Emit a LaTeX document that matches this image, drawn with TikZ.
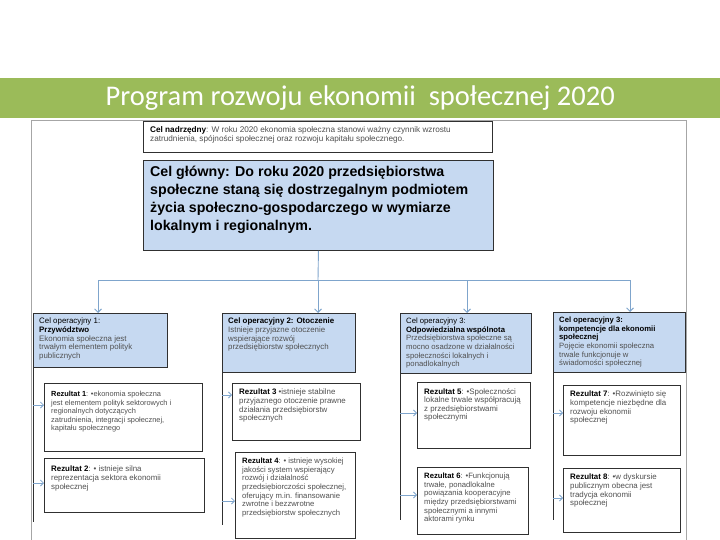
\documentclass[tikz,border=0pt]{standalone}
\usepackage{fontspec}
\setmainfont{Liberation Sans}
\newfontfamily\titlefont{Carlito}
\usetikzlibrary{arrows.meta}
\definecolor{titlegreen}{HTML}{9BBB59}
\definecolor{framegray}{HTML}{A6A6A6}
\definecolor{goalblue}{HTML}{C6D9F1}
\definecolor{treeblue}{HTML}{7FA5CC}
\definecolor{bodygray}{HTML}{505050}
\definecolor{edgedark}{HTML}{303030}
\begin{document}
\begin{tikzpicture}[x=1pt,y=-1pt,
  boxw/.style={draw=edgedark, line width=0.9pt, fill=white, anchor=north west, inner sep=0pt},
  boxb/.style={draw=edgedark, line width=0.9pt, fill=goalblue, anchor=north west, inner sep=0pt},
  txt/.style={anchor=north west, inner sep=0pt, align=left, text=bodygray, font=\fontsize{7.9}{8.6}\selectfont},
  txtm/.style={anchor=north west, inner sep=0pt, align=left, text=bodygray, font=\fontsize{7.7}{8.6}\selectfont},
  txtn/.style={anchor=north west, inner sep=0pt, align=left, text=bodygray, font=\fontsize{7.4}{8.6}\selectfont},
  toptxt/.style={anchor=north west, inner sep=0pt, align=left, text=bodygray, font=\fontsize{8.2}{9}\selectfont},
  bigtxt/.style={anchor=north west, inner sep=0pt, align=left, text=black, font=\bfseries\fontsize{14.2}{17.8}\selectfont},
  treeline/.style={draw=treeblue, line width=0.9pt},
  treearrow/.style={draw=treeblue, line width=0.9pt, -{Straight Barb[length=3.5pt,width=7pt]}},
  colline/.style={draw=edgedark, line width=0.9pt},
  resarrow/.style={draw=treeblue, line width=0.8pt, -{Straight Barb[length=3pt,width=6pt]}}
]
\useasboundingbox (0,0) rectangle (720,540);

% title bar
\node[fill=titlegreen, minimum width=720pt, minimum height=40pt, inner sep=0pt, anchor=north west,
      text=white, font=\titlefont\fontsize{28.5}{32}\selectfont] (title) at (0,78)
      {Program rozwoju ekonomii\ \ społecznej 2020};

% outer frame of the diagram
\coordinate (fbl) at (31,545);
\coordinate (ftl) at (31,120);
\coordinate (ftr) at (686,120);
\coordinate (fbr) at (686,545);
\draw[framegray, line width=0.8pt] (fbl) -- (ftl) -- (ftr) -- (fbr);

% top goal
\node[boxw, minimum width=349pt, minimum height=31pt] (top) at (143,121) {};
\node[toptxt] (toptext) at ([shift={(7pt,-5pt)}]top.north west)
  {\textcolor{black}{\textbf{Cel nadrzędny}}: W roku 2020 ekonomia społeczna stanowi ważny czynnik wzrostu\\
   zatrudnienia, spójności społecznej oraz rozwoju kapitału społecznego.};

% main goal
\node[boxb, minimum width=350pt, minimum height=90pt] (main) at (143,160) {};
\node[bigtxt] (maintxt) at ([shift={(7pt,-6pt)}]main.north west)
  {Cel główny: Do roku 2020 przedsiębiorstwa\\
   społeczne staną się dostrzegalnym podmiotem\\
   życia społeczno-gospodarczego w wymiarze\\
   lokalnym i regionalnym.};

% operational goals
\node[boxb, minimum width=134pt, minimum height=54pt] (op1) at (33,313) {};
\node[txt] (op1txt) at ([shift={(6pt,-5pt)}]op1.north west)
  {\textcolor{black}{Cel operacyjny 1:}\\
   \textcolor{black}{\textbf{Przywództwo}}\\
   Ekonomia społeczna jest\\
   trwałym elementem polityk\\
   publicznych};

\node[boxb, minimum width=133pt, minimum height=59pt] (op2) at (222,313) {};
\node[txt] (op2txt) at ([shift={(6pt,-5pt)}]op2.north west)
  {\textcolor{black}{\textbf{Cel operacyjny 2: Otoczenie}}\\
   Istnieje przyjazne otoczenie\\
   wspierające rozwój\\
   przedsiębiorstw społecznych};

\node[boxb, minimum width=131pt, minimum height=60pt] (op3) at (400,313) {};
\node[txtm] (op3txt) at ([shift={(6pt,-5pt)}]op3.north west)
  {\textcolor{black}{Cel operacyjny 3:}\\
   \textcolor{black}{\textbf{Odpowiedzialna wspólnota}}\\
   Przedsiębiorstwa społeczne są\\
   mocno osadzone w działalności\\
   społeczności lokalnych i\\
   ponadlokalnych};

\node[boxb, minimum width=132pt, minimum height=60pt] (op4) at (553,312) {};
\node[txtm] (op4txt) at ([shift={(6pt,-5pt)}]op4.north west)
  {\textcolor{black}{\textbf{Cel operacyjny 3:}}\\
   \textcolor{black}{\textbf{kompetencje dla ekonomii}}\\
   \textcolor{black}{\textbf{społecznej}}\\
   Pojęcie ekonomii społeczna\\
   trwale funkcjonuje w\\
   świadomości społecznej};

% results
\node[boxw, minimum width=158pt, minimum height=68pt] (r1) at (44,383) {};
\node[txtn] (r1txt) at ([shift={(7pt,-8pt)}]r1.north west)
  {\textcolor{black}{\textbf{Rezultat 1}}: •ekonomia społeczna\\
   jest elementem polityk sektorowych i\\
   regionalnych dotyczących\\
   zatrudnienia, integracji społecznej,\\
   kapitału społecznego};

\node[boxw, minimum width=160pt, minimum height=54pt] (r2) at (44,458) {};
\node[txt] (r2txt) at ([shift={(7pt,-8pt)}]r2.north west)
  {\textcolor{black}{\textbf{Rezultat 2}}: • istnieje silna\\
   reprezentacja sektora ekonomii\\
   społecznej};

\node[boxw, minimum width=128pt, minimum height=57pt] (r3) at (232,383) {};
\node[txt] (r3txt) at ([shift={(7pt,-6pt)}]r3.north west)
  {\textcolor{black}{\textbf{Rezultat 3}} •istnieje stabilne\\
   przyjaznego otoczenie prawne\\
   działania przedsiębiorstw\\
   społecznych};

\node[boxw, minimum width=120pt, minimum height=86pt] (r4) at (235,452) {};
\node[txtm] (r4txt) at ([shift={(7pt,-6pt)}]r4.north west)
  {\textcolor{black}{\textbf{Rezultat 4}}: • istnieje wysokiej\\
   jakości system wspierający\\
   rozwój i działalność\\
   przedsiębiorczości społecznej,\\
   oferujący m.in. finansowanie\\
   zwrotne i bezzwrotne\\
   przedsiębiorstw społecznych};

\node[boxw, minimum width=113pt, minimum height=66pt] (r5) at (417,382) {};
\node[txt] (r5txt) at ([shift={(7pt,-6pt)}]r5.north west)
  {\textcolor{black}{\textbf{Rezultat 5}}: •Społeczności\\
   lokalne trwale współpracują\\
   z przedsiębiorstwami\\
   społecznymi};

\node[boxw, minimum width=111pt, minimum height=67pt] (r6) at (417,467) {};
\node[txtm] (r6txt) at ([shift={(7pt,-6pt)}]r6.north west)
  {\textcolor{black}{\textbf{Rezultat 6}}: •Funkcjonują\\
   trwałe, ponadlokalne\\
   powiązania kooperacyjne\\
   między przedsiębiorstwami\\
   społecznymi a innymi\\
   aktorami rynku};

\node[boxw, minimum width=117pt, minimum height=70pt] (r7) at (563,385) {};
\node[txt] (r7txt) at ([shift={(7pt,-6pt)}]r7.north west)
  {\textcolor{black}{\textbf{Rezultat 7}}: •Rozwinięto się\\
   kompetencje niezbędne dla\\
   rozwoju ekonomii\\
   społecznej};

\node[boxw, minimum width=117pt, minimum height=64pt] (r8) at (563,468) {};
\node[txt] (r8txt) at ([shift={(7pt,-6pt)}]r8.north west)
  {\textcolor{black}{\textbf{Rezultat 8}}: •w dyskursie\\
   publicznym obecna jest\\
   tradycja ekonomii\\
   społecznej};

% tree connectors
\coordinate (jc) at (318,280);
\coordinate (j1) at (98,280);
\coordinate (j3) at (467,280);
\coordinate (j4) at (630,280);
\draw[treeline] (main.south) -- (jc);
\draw[treeline] (j1) -- (j4);
\draw[treearrow] (j1) -- (j1 |- op1.north);
\draw[treearrow] (jc) -- (jc |- op2.north);
\draw[treearrow] (j3) -- (j3 |- op3.north);
\draw[treearrow] (j4) -- (j4 |- op4.north);

% column lines
\coordinate (c1) at (33,522);
\coordinate (c2) at (222,525);
\coordinate (c3) at (400,520);
\coordinate (c4) at (553,520);
\draw[colline] (op1.south west) -- (c1);
\draw[colline] (op2.south west) -- (c2);
\draw[colline] (op3.south west) -- (c3);
\draw[colline] (op4.south west) -- (c4);

% arrows into results
\coordinate (a1) at (33,405);
\coordinate (a2) at (33,483);
\coordinate (a3) at (222,395);
\coordinate (a4) at (222,501);
\coordinate (a5) at (400,413);
\coordinate (a6) at (400,495);
\coordinate (a7) at (553,413);
\coordinate (a8) at (553,498);
\draw[resarrow] (a1) -- (a1 -| r1.west);
\draw[resarrow] (a2) -- (a2 -| r2.west);
\draw[resarrow] (a3) -- (a3 -| r3.west);
\draw[resarrow] (a4) -- (a4 -| r4.west);
\draw[resarrow] (a5) -- (a5 -| r5.west);
\draw[resarrow] (a6) -- (a6 -| r6.west);
\draw[resarrow] (a7) -- (a7 -| r7.west);
\draw[resarrow] (a8) -- (a8 -| r8.west);
\end{tikzpicture}
\end{document}
